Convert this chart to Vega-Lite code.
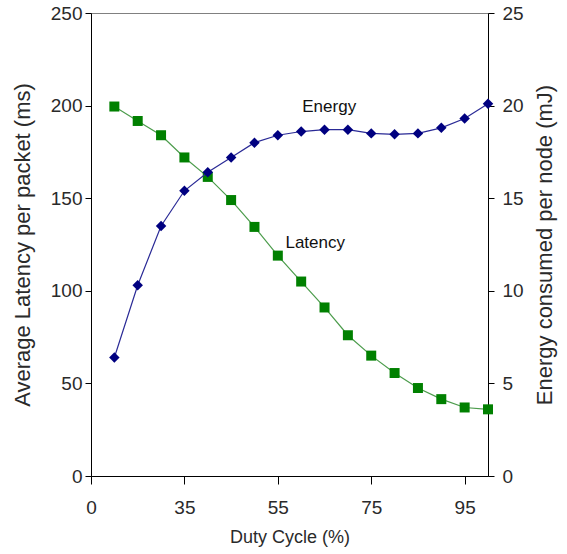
{
  "$schema": "https://vega.github.io/schema/vega-lite/v6.json",
  "width": 397,
  "height": 463,
  "autosize": {"type": "none"},
  "padding": {"left": 91, "top": 13, "right": 79, "bottom": 78},
  "background": "white",
  "config": {
    "font": "Liberation Sans",
    "view": {"stroke": "#808080", "strokeWidth": 1},
    "axis": {
      "grid": false,
      "domainColor": "#000000",
      "tickColor": "#000000",
      "labelColor": "#2a2a2a",
      "titleColor": "#2a2a2a",
      "titleFontWeight": "normal",
      "labelFont": "Liberation Sans",
      "titleFont": "Liberation Sans"
    }
  },
  "datasets": {
    "series": [
      {"duty": 20, "latency": 199.5, "energy": 6.4},
      {"duty": 25, "latency": 191.7, "energy": 10.3},
      {"duty": 30, "latency": 184, "energy": 13.5},
      {"duty": 35, "latency": 172, "energy": 15.4},
      {"duty": 40, "latency": 161.5, "energy": 16.4},
      {"duty": 45, "latency": 149, "energy": 17.2},
      {"duty": 50, "latency": 134.5, "energy": 18.0},
      {"duty": 55, "latency": 119, "energy": 18.4},
      {"duty": 60, "latency": 105, "energy": 18.6},
      {"duty": 65, "latency": 91, "energy": 18.7},
      {"duty": 70, "latency": 76, "energy": 18.7},
      {"duty": 75, "latency": 65, "energy": 18.5},
      {"duty": 80, "latency": 55.6, "energy": 18.45},
      {"duty": 85, "latency": 47.5, "energy": 18.5},
      {"duty": 90, "latency": 41.5, "energy": 18.8},
      {"duty": 95, "latency": 37, "energy": 19.3},
      {"duty": 100, "latency": 36, "energy": 20.1}
    ],
    "latencyLabel": [{"duty": 63.0, "latency": 125.8, "label": "Latency"}],
    "energyLabel": [{"duty": 66.0, "energy": 19.9, "label": "Energy"}]
  },
  "encoding": {
    "x": {
      "field": "duty",
      "type": "quantitative",
      "scale": {"domain": [15, 100], "nice": false, "zero": false},
      "axis": {
        "title": "Duty Cycle (%)",
        "values": [15, 35, 55, 75, 95],
        "labelExpr": "datum.value == 15 ? '0' : datum.label",
        "labelFontSize": 19,
        "titleFontSize": 18,
        "tickSize": 8,
        "labelPadding": 14,
        "titlePadding": 11,
        "labelFlush": false
      }
    }
  },
  "layer": [
    {
      "encoding": {
        "y": {
          "field": "latency",
          "type": "quantitative",
          "scale": {"domain": [0, 250], "nice": false},
          "axis": {
            "title": "Average Latency per packet (ms)",
            "orient": "left",
            "values": [0, 50, 100, 150, 200, 250],
            "labelFontSize": 19,
            "titleFontSize": 22,
            "tickSize": 6,
            "labelPadding": 3,
            "titlePadding": 16,
            "labelFlush": false
          }
        }
      },
      "layer": [
        {
          "data": {"name": "series"},
          "mark": {"type": "line", "color": "#4c9c4c", "strokeWidth": 1.2},
          "encoding": {}
        },
        {
          "data": {"name": "series"},
          "mark": {"type": "point", "shape": "square", "filled": true, "color": "#008000", "size": 100, "opacity": 1},
          "encoding": {}
        },
        {
          "data": {"name": "latencyLabel"},
          "mark": {"type": "text", "fontSize": 17, "color": "#111111", "font": "Liberation Sans"},
          "encoding": {"text": {"field": "label"}}
        }
      ]
    },
    {
      "encoding": {
        "y": {
          "field": "energy",
          "type": "quantitative",
          "scale": {"domain": [0, 25], "nice": false},
          "axis": {
            "title": "Energy consumed per node (mJ)",
            "orient": "right",
            "values": [0, 5, 10, 15, 20, 25],
            "labelFontSize": 19,
            "titleFontSize": 22,
            "titleAngle": 270,
            "tickSize": 6,
            "labelPadding": 8,
            "titlePadding": 33,
            "labelFlush": false
          }
        }
      },
      "layer": [
        {
          "data": {"name": "series"},
          "mark": {"type": "line", "color": "#2a2a96", "strokeWidth": 1.2},
          "encoding": {}
        },
        {
          "data": {"name": "series"},
          "mark": {"type": "point", "shape": "diamond", "filled": true, "color": "#000080", "size": 110, "opacity": 1},
          "encoding": {}
        },
        {
          "data": {"name": "energyLabel"},
          "mark": {"type": "text", "fontSize": 17, "color": "#111111", "font": "Liberation Sans"},
          "encoding": {"text": {"field": "label"}}
        }
      ]
    }
  ],
  "resolve": {"scale": {"y": "independent"}}
}
